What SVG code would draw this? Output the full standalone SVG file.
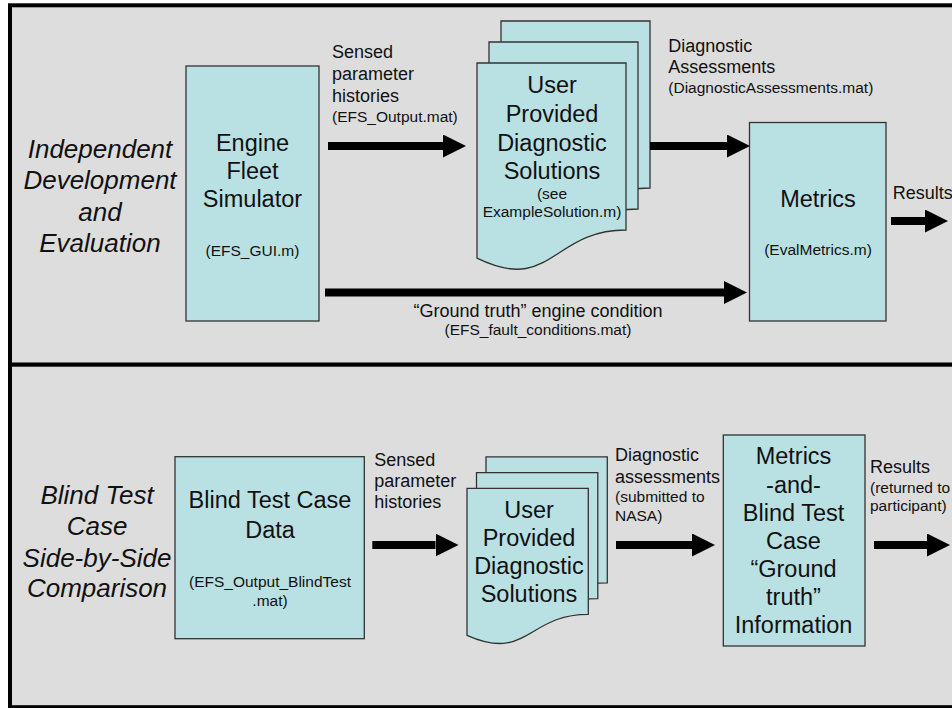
<svg xmlns="http://www.w3.org/2000/svg" width="952" height="708" viewBox="0 0 952 708">
<defs>
<style>
text{font-family:"Liberation Sans",Arial,sans-serif;fill:#111}
.big{font-size:23.5px;text-anchor:middle}
.it{font-size:26px;font-style:italic;text-anchor:middle}
.lbl{font-size:18px}
.sm{font-size:15.5px}
.mid{text-anchor:middle}
.box{fill:#B9E0E3;stroke:#333;stroke-width:1.3}
.panel{fill:#DDDDDD;stroke:#000;stroke-width:4}
.arr{stroke:#000;stroke-width:8;fill:none;marker-end:url(#head)}
</style>
<marker id="head" markerUnits="userSpaceOnUse" markerWidth="24" markerHeight="24" refX="0" refY="11.5" orient="auto">
<path d="M0,0 L23,11.5 L0,23 Z" fill="#000"/>
</marker>
</defs>
<rect x="0" y="0" width="952" height="708" fill="#fff"/>
<g id="panels">
<rect class="panel" x="10" y="5.3" width="980" height="359.4"/>
<rect class="panel" x="10" y="364.7" width="980" height="342.5"/>
</g>
<g id="label-top">
<text class="it" x="100" y="158">Independent</text>
<text class="it" x="100" y="189">Development</text>
<text class="it" x="100" y="221">and</text>
<text class="it" x="100" y="252">Evaluation</text>
</g>
<g id="label-bottom">
<text class="it" x="97" y="504">Blind Test</text>
<text class="it" x="97" y="535">Case</text>
<text class="it" x="97" y="567">Side-by-Side</text>
<text class="it" x="97" y="597">Comparison</text>
</g>
<g id="efs">
<rect class="box" x="186" y="66" width="133" height="255"/>
<text class="big" x="252.5" y="151">Engine</text>
<text class="big" x="252.5" y="179">Fleet</text>
<text class="big" x="252.5" y="207">Simulator</text>
<text class="sm mid" x="252.5" y="256">(EFS_GUI.m)</text>
</g>
<g id="solutions-top">
<path class="box" transform="translate(24,-42)" d="M477,63 H626 V230 C551.5,230 551.5,294.5 477,258.2 Z"/>
<path class="box" transform="translate(12,-21)" d="M477,63 H626 V230 C551.5,230 551.5,294.5 477,258.2 Z"/>
<path class="box" d="M477,63 H626 V230 C551.5,230 551.5,294.5 477,258.2 Z"/>
<text class="big" x="552" y="93">User</text>
<text class="big" x="552" y="122">Provided</text>
<text class="big" x="552" y="150.5">Diagnostic</text>
<text class="big" x="552" y="178.5">Solutions</text>
<text class="sm mid" x="552" y="199">(see</text>
<text class="sm mid" x="552" y="217">ExampleSolution.m)</text>
</g>
<g id="metrics-top">
<rect class="box" x="749.5" y="122.5" width="136.5" height="198.5"/>
<text class="big" x="818" y="206.5">Metrics</text>
<text class="sm mid" x="818" y="255">(EvalMetrics.m)</text>
</g>
<g id="blind-data">
<rect class="box" x="175" y="456.7" width="189.3" height="182"/>
<text class="big" x="270" y="508.3">Blind Test Case</text>
<text class="big" x="270" y="537.7">Data</text>
<text class="sm mid" x="270" y="586.7">(EFS_Output_BlindTest</text>
<text class="sm mid" x="270" y="606">.mat)</text>
</g>
<g id="solutions-bottom">
<path class="box" transform="translate(19,-31.5)" d="M467,488.3 H588.3 V614.3 C527.6,614.3 527.6,662.3 467,635.3 Z"/>
<path class="box" transform="translate(9.5,-15.7)" d="M467,488.3 H588.3 V614.3 C527.6,614.3 527.6,662.3 467,635.3 Z"/>
<path class="box" d="M467,488.3 H588.3 V614.3 C527.6,614.3 527.6,662.3 467,635.3 Z"/>
<text class="big" x="529" y="518.3">User</text>
<text class="big" x="529" y="546">Provided</text>
<text class="big" x="529" y="574">Diagnostic</text>
<text class="big" x="529" y="601.7">Solutions</text>
</g>
<g id="metrics-bottom">
<rect class="box" x="723.3" y="435" width="141.7" height="211"/>
<text class="big" x="793.5" y="464.3">Metrics</text>
<text class="big" x="793.5" y="492.7">-and-</text>
<text class="big" x="793.5" y="520.7">Blind Test</text>
<text class="big" x="793.5" y="549.3">Case</text>
<text class="big" x="793.5" y="576.7">“Ground</text>
<text class="big" x="793.5" y="605">truth”</text>
<text class="big" x="793.5" y="633.3">Information</text>
</g>
<g id="connectors">
<line class="arr" x1="328" y1="146" x2="443" y2="146"/>
<line class="arr" x1="650" y1="146" x2="727" y2="146"/>
<line class="arr" x1="325" y1="292.5" x2="724" y2="292.5"/>
<line class="arr" x1="891" y1="221" x2="925" y2="221"/>
<line class="arr" x1="372.3" y1="545" x2="435.5" y2="545"/>
<line class="arr" x1="616" y1="545" x2="692" y2="545"/>
<line class="arr" x1="874" y1="545" x2="927" y2="545"/>
</g>
<g id="connector-labels">
<text class="lbl" x="332" y="58.3">Sensed</text>
<text class="lbl" x="332" y="80">parameter</text>
<text class="lbl" x="332" y="102">histories</text>
<text class="sm" x="332" y="121.7">(EFS_Output.mat)</text>
<text class="lbl" x="668.3" y="51.7">Diagnostic</text>
<text class="lbl" x="668.3" y="72.7">Assessments</text>
<text class="sm" x="668.3" y="92.7">(DiagnosticAssessments.mat)</text>
<text class="lbl mid" x="538" y="316.7">“Ground truth” engine condition</text>
<text class="sm mid" x="538" y="335">(EFS_fault_conditions.mat)</text>
<text class="lbl" x="892.7" y="199.3">Results</text>
<text class="lbl" x="374.3" y="466">Sensed</text>
<text class="lbl" x="374.3" y="487.3">parameter</text>
<text class="lbl" x="374.3" y="508.3">histories</text>
<text class="lbl" x="615" y="460.7">Diagnostic</text>
<text class="lbl" x="615" y="482.7">assessments</text>
<text class="sm" x="615" y="501.7">(submitted to</text>
<text class="sm" x="615" y="520.7">NASA)</text>
<text class="lbl" x="870" y="473.3">Results</text>
<text class="sm" x="870" y="492.7">(returned to</text>
<text class="sm" x="870" y="510.5">participant)</text>
</g>
</svg>
